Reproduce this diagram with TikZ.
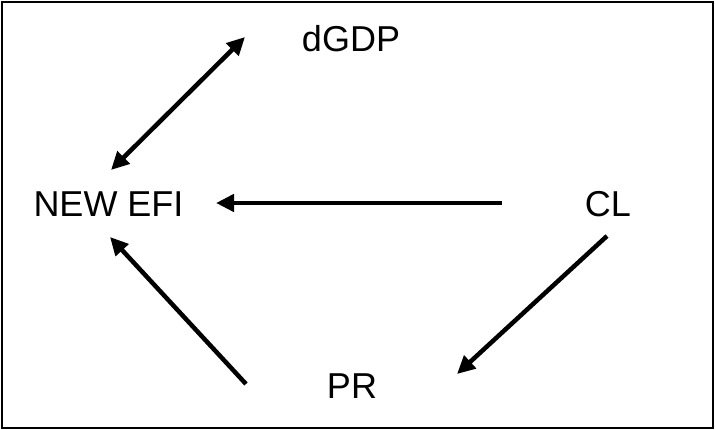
\documentclass[tikz,border=0pt]{standalone}
\usepackage{fontspec}
\setmainfont{Liberation Sans}
\usetikzlibrary{arrows.meta,calc}
\tikzset{
  label/.style={inner sep=0pt, anchor=base, font=\fontsize{36}{42}\selectfont},
  link/.style={line width=4.5pt, -{Triangle[length=18pt,width=17pt]}},
  biarrow/.style={line width=4.5pt, {Triangle[length=18pt,width=17pt]}-{Triangle[length=18pt,width=17pt]}}
}
\begin{document}
\begin{tikzpicture}[x=1pt,y=-1pt]
  \useasboundingbox (0,0) rectangle (715,430);
  \draw[line width=2pt] (2,2) rectangle (713,428);

  \node[label] (dgdp) at (351,52)    {dGDP};
  \node[label] (new)  at (108.5,217) {NEW EFI};
  \node[label] (cl)   at (608,217)   {CL};
  \node[label] (pr)   at (352,398)   {PR};

  \draw[biarrow] ($(new.base)+(2.5,-47)$) -- ($(dgdp.base)+(-106,-15)$);
  \draw[link] ($(cl.base)+(-106,-14)$) -- ($(new.base)+(107.5,-14)$);
  \draw[link] ($(cl.base)+(-1,19)$) -- ($(pr.base)+(105,-24)$);
  \draw[link] ($(pr.base)+(-106,-14)$) -- ($(new.base)+(1.5,20)$);
\end{tikzpicture}
\end{document}
